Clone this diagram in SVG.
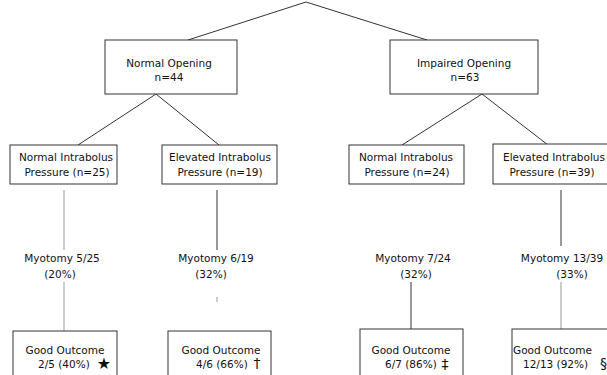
<svg xmlns="http://www.w3.org/2000/svg" width="607" height="375" viewBox="0 0 607 375">
<style>
.box{fill:#fff;stroke:#333;stroke-width:1}
.ln{stroke:#333;stroke-width:1;fill:none}
.fl{stroke:#999;stroke-width:1;fill:none}
text{font-family:"DejaVu Sans","Liberation Sans",sans-serif;font-size:10.5px;fill:#111;text-anchor:middle}
.s{text-anchor:start}
</style>
<rect width="607" height="375" fill="#fff"/>
<g id="connectors">
<polyline class="ln" points="188,40 306,2 427,40"/>
<polyline class="ln" points="78,145 156,94 219,145"/>
<polyline class="ln" points="402,145 482,94 548,145"/>
<line class="fl" x1="64" y1="190" x2="64" y2="250"/>
<line class="fl" x1="64" y1="282" x2="64" y2="331"/>
<line class="ln" x1="217" y1="190" x2="217" y2="250"/>
<line class="fl" x1="217" y1="297" x2="217" y2="302"/>
<line class="ln" x1="411" y1="282" x2="411" y2="329"/>
<line class="ln" x1="561" y1="190" x2="561" y2="246"/>
<line class="fl" x1="561" y1="282" x2="561" y2="329"/>
</g>
<g id="normal-opening">
<rect class="box" x="105" y="40" width="132" height="54"/>
<text x="169" y="67">Normal Opening</text>
<text x="169" y="81">n=44</text>
</g>
<g id="impaired-opening">
<rect class="box" x="390" y="40" width="148" height="54"/>
<text x="464" y="67">Impaired Opening</text>
<text x="465" y="81">n=63</text>
</g>
<g id="normal-ibp-1">
<rect class="box" x="10" y="145" width="107" height="39"/>
<text x="66" y="161">Normal Intrabolus</text>
<text x="67" y="176">Pressure (n=25)</text>
</g>
<g id="elevated-ibp-1">
<rect class="box" x="162" y="145" width="115" height="39"/>
<text x="220" y="161">Elevated Intrabolus</text>
<text x="220" y="176">Pressure (n=19)</text>
</g>
<g id="normal-ibp-2">
<rect class="box" x="349" y="145" width="115" height="39"/>
<text x="406" y="161">Normal Intrabolus</text>
<text x="407" y="176">Pressure (n=24)</text>
</g>
<g id="elevated-ibp-2">
<rect class="box" x="493" y="144" width="130" height="40"/>
<text x="554" y="161">Elevated Intrabolus</text>
<text x="552" y="176">Pressure (n=39)</text>
</g>
<g id="myotomy-1">
<text x="62" y="262">Myotomy 5/25</text>
<text x="60" y="278">(20%)</text>
</g>
<g id="myotomy-2">
<text x="216" y="262">Myotomy 6/19</text>
<text x="211" y="278">(32%)</text>
</g>
<g id="myotomy-3">
<text x="413" y="262">Myotomy 7/24</text>
<text x="416" y="278">(32%)</text>
</g>
<g id="myotomy-4">
<text x="562" y="262">Myotomy 13/39</text>
<text x="572" y="278">(33%)</text>
</g>
<g id="outcome-1">
<rect class="box" x="13" y="331" width="104" height="50"/>
<text x="65" y="354">Good Outcome</text>
<text class="s" x="38" y="368">2/5 (40%)</text>
<text x="104" y="369" style="font-size:16px">★</text>
</g>
<g id="outcome-2">
<rect class="box" x="168" y="331" width="103" height="50"/>
<text x="221" y="354">Good Outcome</text>
<text class="s" x="196" y="368">4/6 (66%)</text>
<text x="257" y="368" style="font-size:14px">†</text>
</g>
<g id="outcome-3">
<rect class="box" x="360" y="329" width="103" height="52"/>
<text x="411" y="354">Good Outcome</text>
<text class="s" x="385" y="368">6/7 (86%)</text>
<text x="445" y="369" style="font-size:14px">‡</text>
</g>
<g id="outcome-4">
<rect class="box" x="512" y="329" width="110" height="52"/>
<text class="s" x="513" y="354">Good Outcome</text>
<text class="s" x="523" y="368">12/13 (92%)</text>
<text class="s" x="600" y="368" style="font-size:14px">§</text>
</g>
</svg>
